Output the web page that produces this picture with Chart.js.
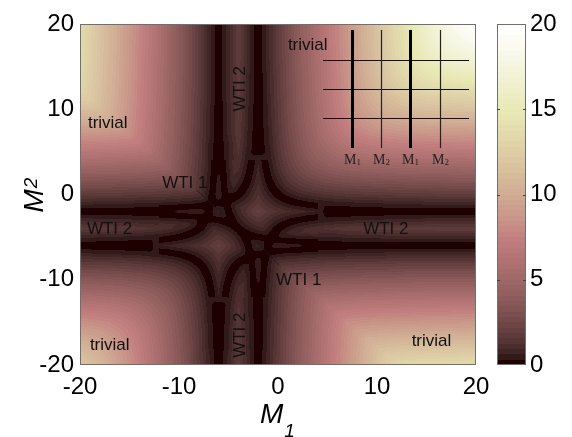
<!DOCTYPE html>
<html>
<head>
<meta charset="utf-8">
<script src="https://cdn.jsdelivr.net/npm/chart.js@4.4.1/dist/chart.umd.min.js"></script>
<style>
  html, body { margin: 0; padding: 0; background: #fff; }
  #wrap { position: relative; width: 572px; height: 437px; overflow: hidden; }
  #wrap canvas { position: absolute; top: 0; }
</style>
</head>
<body>
<div id="wrap">
  <canvas id="gapChart" width="572" height="437" style="left:0"></canvas>
  <canvas id="barChart" width="96" height="437" style="left:476px"></canvas>
</div>
<script>
// grid of the phase diagram: columns are M1, rows are M2 (top row = M2 20)
var m1Values = [-20,-19,-18,-17,-16,-15,-14,-13,-12,-11,-10,-9,-8,-7,-6,-5,-4,-3,-2,-1,0,1,2,3,4,5,6,7,8,9,10,11,12,13,14,15,16,17,18,19,20];
var m2Values = [20,19,18,17,16,15,14,13,12,11,10,9,8,7,6,5,4,3,2,1,0,-1,-2,-3,-4,-5,-6,-7,-8,-9,-10,-11,-12,-13,-14,-15,-16,-17,-18,-19,-20];

// gap, one row per M2 value
var gapRows = [
  [13.7,12.7,11.7,10.7,9.8,8.8,7.8,6.8,5.8,4.8,3.8,2.8,1.8,0.8,0.0,0.8,1.8,0.8,0.0,0.8,1.8,2.8,3.8,4.8,5.8,6.7,7.7,8.7,9.7,10.6,11.6,12.6,13.5,14.5,15.4,16.3,17.2,18.0,18.8,19.4,20.0],
  [13.6,12.7,11.7,10.7,9.7,8.8,7.8,6.8,5.8,4.8,3.8,2.8,1.8,0.8,0.0,0.8,1.8,0.8,0.0,0.8,1.8,2.8,3.8,4.8,5.7,6.7,7.7,8.7,9.6,10.6,11.6,12.5,13.5,14.4,15.3,16.2,17.0,17.8,18.4,19.0,19.4],
  [13.6,12.6,11.7,10.7,9.7,8.7,7.8,6.8,5.8,4.8,3.8,2.8,1.8,0.8,0.0,0.8,1.8,0.8,0.0,0.8,1.8,2.8,3.8,4.7,5.7,6.7,7.7,8.6,9.6,10.6,11.5,12.5,13.4,14.3,15.2,16.0,16.8,17.4,18.0,18.4,18.8],
  [13.6,12.6,11.6,10.7,9.7,8.7,7.7,6.8,5.8,4.8,3.8,2.8,1.8,0.8,0.0,0.8,1.8,0.8,0.0,0.8,1.8,2.8,3.7,4.7,5.7,6.7,7.6,8.6,9.6,10.5,11.5,12.4,13.3,14.2,15.0,15.8,16.4,17.0,17.4,17.8,18.0],
  [13.5,12.6,11.6,10.6,9.7,8.7,7.7,6.7,5.8,4.8,3.8,2.8,1.8,0.8,0.0,0.8,1.8,0.8,0.0,0.8,1.8,2.7,3.7,4.7,5.7,6.6,7.6,8.6,9.5,10.5,11.4,12.3,13.2,14.0,14.8,15.4,16.0,16.4,16.8,17.0,17.2],
  [13.5,12.5,11.6,10.6,9.6,8.7,7.7,6.7,5.7,4.8,3.8,2.8,1.8,0.8,0.0,0.8,1.7,0.8,0.0,0.8,1.7,2.7,3.7,4.7,5.6,6.6,7.6,8.5,9.5,10.4,11.3,12.2,13.0,13.8,14.4,15.0,15.4,15.8,16.0,16.2,16.3],
  [13.4,12.5,11.5,10.6,9.6,8.6,7.7,6.7,5.7,4.7,3.8,2.8,1.8,0.8,0.0,0.8,1.7,0.7,0.0,0.7,1.7,2.7,3.7,4.6,5.6,6.6,7.5,8.5,9.4,10.3,11.2,12.0,12.8,13.4,14.0,14.4,14.8,15.0,15.2,15.3,15.4],
  [13.3,12.4,11.5,10.5,9.6,8.6,7.6,6.7,5.7,4.7,3.7,2.8,1.8,0.8,0.0,0.8,1.7,0.7,0.0,0.7,1.7,2.7,3.6,4.6,5.6,6.5,7.5,8.4,9.3,10.2,11.0,11.8,12.4,13.0,13.4,13.8,14.0,14.2,14.3,14.4,14.5],
  [13.2,12.3,11.4,10.5,9.5,8.6,7.6,6.6,5.7,4.7,3.7,2.7,1.8,0.8,0.0,0.8,1.7,0.7,0.0,0.7,1.7,2.6,3.6,4.6,5.5,6.5,7.4,8.3,9.2,10.0,10.8,11.4,12.0,12.4,12.8,13.0,13.2,13.3,13.4,13.5,13.5],
  [12.3,12.2,11.3,10.4,9.5,8.5,7.6,6.6,5.6,4.7,3.7,2.7,1.7,0.8,0.0,0.8,1.6,0.7,0.0,0.7,1.6,2.6,3.6,4.5,5.5,6.4,7.3,8.2,9.0,9.8,10.4,11.0,11.4,11.8,12.0,12.2,12.3,12.4,12.5,12.5,12.6],
  [11.4,11.3,11.2,10.3,9.4,8.5,7.5,6.6,5.6,4.6,3.7,2.7,1.7,0.7,0.0,0.7,1.6,0.6,0.0,0.6,1.6,2.6,3.5,4.5,5.4,6.3,7.2,8.0,8.8,9.4,10.0,10.4,10.8,11.0,11.2,11.3,11.4,11.5,11.5,11.6,11.6],
  [10.5,10.4,10.3,10.2,9.3,8.4,7.5,6.5,5.6,4.6,3.6,2.7,1.7,0.7,0.0,0.7,1.6,0.6,0.0,0.6,1.6,2.5,3.5,4.4,5.3,6.2,7.0,7.8,8.4,9.0,9.4,9.8,10.0,10.2,10.3,10.4,10.5,10.5,10.6,10.6,10.6],
  [9.5,9.5,9.4,9.3,9.2,8.3,7.4,6.5,5.5,4.6,3.6,2.6,1.7,0.7,0.0,0.7,1.5,0.6,0.0,0.6,1.5,2.5,3.4,4.3,5.2,6.0,6.8,7.4,8.0,8.4,8.8,9.0,9.2,9.3,9.4,9.5,9.5,9.6,9.6,9.6,9.7],
  [8.6,8.5,8.5,8.4,8.3,8.2,7.3,6.4,5.5,4.5,3.6,2.6,1.6,0.7,0.0,0.7,1.5,0.5,0.0,0.5,1.5,2.4,3.3,4.2,5.0,5.8,6.4,7.0,7.4,7.8,8.0,8.2,8.3,8.4,8.5,8.5,8.6,8.6,8.6,8.7,8.7],
  [7.6,7.6,7.5,7.5,7.4,7.3,7.2,6.3,5.4,4.5,3.5,2.6,1.6,0.6,0.0,0.6,1.4,0.5,0.0,0.5,1.4,2.3,3.2,4.0,4.8,5.4,6.0,6.4,6.8,7.0,7.2,7.3,7.4,7.5,7.5,7.6,7.6,7.6,7.7,7.7,7.7],
  [6.6,6.6,6.6,6.5,6.5,6.4,6.3,6.2,5.3,4.4,3.5,2.5,1.6,0.6,0.0,0.6,1.3,0.4,0.1,0.4,1.3,2.2,3.0,3.8,4.4,5.0,5.4,5.8,6.0,6.2,6.3,6.4,6.5,6.5,6.6,6.6,6.6,6.7,6.7,6.7,6.7],
  [5.7,5.6,5.6,5.6,5.5,5.5,5.4,5.3,5.2,4.3,3.4,2.5,1.5,0.6,0.0,0.6,1.2,0.3,0.6,0.3,1.2,2.0,2.8,3.4,4.0,4.4,4.8,5.0,5.2,5.3,5.4,5.5,5.5,5.6,5.6,5.6,5.7,5.7,5.7,5.7,5.8],
  [4.7,4.7,4.6,4.6,4.6,4.5,4.5,4.4,4.3,4.2,3.3,2.4,1.5,0.5,0.1,0.5,1.0,0.2,0.7,0.2,1.0,1.8,2.4,3.0,3.4,3.8,4.0,4.2,4.3,4.4,4.5,4.5,4.6,4.6,4.6,4.7,4.7,4.7,4.7,4.8,4.8],
  [3.7,3.7,3.7,3.6,3.6,3.6,3.5,3.5,3.4,3.3,3.2,2.3,1.4,0.5,0.2,0.5,0.8,0.0,0.8,0.0,0.8,1.4,2.0,2.4,2.8,3.0,3.2,3.3,3.4,3.5,3.5,3.6,3.6,3.6,3.7,3.7,3.7,3.7,3.8,3.8,3.8],
  [2.7,2.7,2.7,2.7,2.6,2.6,2.6,2.5,2.5,2.4,2.3,2.2,1.3,0.4,0.3,0.4,0.4,0.2,1.0,0.2,0.4,1.0,1.4,1.8,2.0,2.2,2.3,2.4,2.5,2.5,2.6,2.6,2.6,2.7,2.7,2.7,2.7,2.8,2.8,2.8,2.8],
  [1.8,1.7,1.7,1.7,1.7,1.6,1.6,1.6,1.5,1.5,1.4,1.3,1.2,0.3,0.6,0.3,0.0,0.6,1.2,0.6,0.0,0.4,0.8,1.0,1.2,1.3,1.4,1.5,1.5,1.6,1.6,1.6,1.7,1.7,1.7,1.7,1.8,1.8,1.8,1.8,1.8],
  [0.8,0.8,0.7,0.7,0.7,0.7,0.6,0.6,0.6,0.5,0.5,0.4,0.3,0.2,0.0,0.2,0.6,1.0,1.6,1.0,0.6,0.2,0.0,0.2,0.3,0.4,0.5,0.5,0.6,0.6,0.6,0.7,0.7,0.7,0.7,0.8,0.8,0.8,0.8,0.8,0.8],
  [0.0,0.0,0.0,0.0,0.0,0.0,0.0,0.0,0.0,0.0,0.2,0.3,0.6,0.0,0.8,0.0,0.8,1.4,2.0,1.6,1.2,1.0,0.8,0.7,0.6,0.1,0.0,0.0,0.0,0.0,0.0,0.0,0.0,0.0,0.0,0.0,0.0,0.0,0.0,0.0,0.0],
  [0.8,0.8,0.7,0.7,0.7,0.7,0.6,0.6,0.6,0.5,0.5,0.4,0.3,0.2,0.0,0.2,0.4,1.0,1.4,1.0,0.6,0.2,0.0,0.2,0.3,0.4,0.5,0.5,0.6,0.6,0.6,0.7,0.7,0.7,0.7,0.8,0.8,0.8,0.8,0.8,0.8],
  [1.7,1.6,1.6,1.6,1.5,1.5,1.4,1.3,1.2,1.0,0.8,0.4,0.0,0.6,0.8,0.4,0.0,0.4,0.8,0.6,0.0,0.4,0.8,1.0,1.2,1.3,1.4,1.5,1.5,1.6,1.6,1.6,1.7,1.7,1.7,1.7,1.8,1.8,1.8,1.8,1.8],
  [0.7,0.7,0.6,0.6,0.6,0.5,0.5,0.4,0.3,0.2,0.0,0.2,0.6,1.0,1.4,1.0,0.4,0.2,0.0,0.2,0.3,0.4,0.5,0.5,0.6,0.6,0.6,0.7,0.7,0.7,0.7,0.8,0.8,0.8,0.8,0.8,0.8,0.8,0.8,0.8,0.8],
  [0.0,0.0,0.0,0.0,0.0,0.0,0.0,0.1,0.6,0.7,0.8,1.0,1.2,1.6,2.0,1.4,0.8,0.0,0.8,0.0,0.6,0.3,0.2,0.1,0.0,0.0,0.0,0.0,0.0,0.0,0.0,0.0,0.0,0.0,0.0,0.0,0.0,0.0,0.0,0.0,0.0],
  [0.7,0.7,0.6,0.6,0.6,0.5,0.5,0.4,0.3,0.2,0.0,0.2,0.6,1.0,1.6,1.0,0.6,0.2,0.0,0.2,0.3,0.4,0.5,0.5,0.6,0.6,0.6,0.7,0.7,0.7,0.7,0.8,0.8,0.8,0.8,0.8,0.8,0.8,0.8,0.8,0.8],
  [1.7,1.6,1.6,1.6,1.5,1.5,1.4,1.3,1.2,1.0,0.8,0.4,0.0,0.6,1.2,0.6,0.0,0.3,0.6,0.3,1.2,1.3,1.4,1.5,1.5,1.6,1.6,1.6,1.7,1.7,1.7,1.7,1.8,1.8,1.8,1.8,1.8,1.8,1.8,1.8,1.8],
  [2.6,2.6,2.6,2.5,2.5,2.4,2.3,2.2,2.0,1.8,1.4,1.0,0.4,0.2,1.0,0.2,0.4,0.4,0.3,0.4,1.3,2.2,2.3,2.4,2.5,2.5,2.6,2.6,2.6,2.7,2.7,2.7,2.7,2.8,2.8,2.8,2.8,2.8,2.8,2.8,2.8],
  [3.6,3.6,3.5,3.5,3.4,3.3,3.2,3.0,2.8,2.4,2.0,1.4,0.8,0.0,0.8,0.0,0.8,0.5,0.2,0.5,1.4,2.3,3.2,3.3,3.4,3.5,3.5,3.6,3.6,3.6,3.7,3.7,3.7,3.7,3.8,3.8,3.8,3.8,3.8,3.8,3.8],
  [4.6,4.5,4.5,4.4,4.3,4.2,4.0,3.8,3.4,3.0,2.4,1.8,1.0,0.2,0.7,0.2,1.0,0.5,0.1,0.5,1.5,2.4,3.3,4.2,4.3,4.4,4.5,4.5,4.6,4.6,4.6,4.7,4.7,4.7,4.7,4.8,4.8,4.8,4.8,4.8,4.8],
  [5.5,5.5,5.4,5.3,5.2,5.0,4.8,4.4,4.0,3.4,2.8,2.0,1.2,0.3,0.6,0.3,1.2,0.6,0.0,0.6,1.5,2.5,3.4,4.3,5.2,5.3,5.4,5.5,5.5,5.6,5.6,5.6,5.7,5.7,5.7,5.7,5.8,5.8,5.8,5.8,5.8],
  [6.5,6.4,6.3,6.2,6.0,5.8,5.4,5.0,4.4,3.8,3.0,2.2,1.3,0.4,0.1,0.4,1.3,0.6,0.0,0.6,1.6,2.5,3.5,4.4,5.3,6.2,6.3,6.4,6.5,6.5,6.6,6.6,6.6,6.7,6.7,6.7,6.7,6.8,6.8,6.8,6.8],
  [7.4,7.3,7.2,7.0,6.8,6.4,6.0,5.4,4.8,4.0,3.2,2.3,1.4,0.5,0.0,0.5,1.4,0.6,0.0,0.6,1.6,2.6,3.5,4.5,5.4,6.3,7.2,7.3,7.4,7.5,7.5,7.6,7.6,7.6,7.7,7.7,7.7,7.7,7.8,7.8,7.8],
  [8.3,8.2,8.0,7.8,7.4,7.0,6.4,5.8,5.0,4.2,3.3,2.4,1.5,0.5,0.0,0.5,1.5,0.7,0.0,0.7,1.6,2.6,3.6,4.5,5.5,6.4,7.3,8.2,8.3,8.4,8.5,8.5,8.6,8.6,8.6,8.7,8.7,8.7,8.7,8.8,8.8],
  [9.2,9.0,8.8,8.4,8.0,7.4,6.8,6.0,5.2,4.3,3.4,2.5,1.5,0.6,0.0,0.6,1.5,0.7,0.0,0.7,1.7,2.6,3.6,4.6,5.5,6.5,7.4,8.3,9.2,9.3,9.4,9.5,9.5,9.6,9.6,9.6,9.7,9.7,9.7,9.7,9.8],
  [10.0,9.8,9.4,9.0,8.4,7.8,7.0,6.2,5.3,4.4,3.5,2.5,1.6,0.6,0.0,0.6,1.6,0.7,0.0,0.7,1.7,2.7,3.6,4.6,5.6,6.5,7.5,8.4,9.3,10.2,10.3,10.4,10.5,10.5,10.6,10.6,10.6,10.7,10.7,10.7,10.7],
  [10.8,10.4,10.0,9.4,8.8,8.0,7.2,6.3,5.4,4.5,3.5,2.6,1.6,0.6,0.0,0.6,1.6,0.7,0.0,0.7,1.7,2.7,3.7,4.6,5.6,6.6,7.5,8.5,9.4,10.3,11.2,11.3,11.4,11.5,11.5,11.6,11.6,11.6,11.7,11.7,11.7],
  [11.4,11.0,10.4,9.8,9.0,8.2,7.3,6.4,5.5,4.5,3.6,2.6,1.6,0.7,0.0,0.7,1.6,0.8,0.0,0.8,1.7,2.7,3.7,4.7,5.6,6.6,7.6,8.5,9.5,10.4,11.3,12.2,12.3,12.4,12.5,12.5,12.6,12.6,12.6,12.7,12.7],
  [12.0,11.4,10.8,10.0,9.2,8.3,7.4,6.5,5.5,4.6,3.6,2.6,1.7,0.7,0.0,0.7,1.7,0.8,0.0,0.8,1.8,2.7,3.7,4.7,5.7,6.6,7.6,8.6,9.5,10.5,11.4,12.3,13.2,13.3,13.4,13.5,13.5,13.6,13.6,13.6,13.7]
];

// finer reading of the crossing region, M1 and M2 from -12 to 4 in half steps
var fineM1 = [-12,-11.5,-11,-10.5,-10,-9.5,-9,-8.5,-8,-7.5,-7,-6.5,-6,-5.5,-5,-4.5,-4,-3.5,-3,-2.5,-2,-1.5,-1,-0.5,0,0.5,1,1.5,2,2.5,3,3.5,4];
var fineM2 = [4,3.5,3,2.5,2,1.5,1,0.5,0,-0.5,-1,-1.5,-2,-2.5,-3,-3.5,-4,-4.5,-5,-5.5,-6,-6.5,-7,-7.5,-8,-8.5,-9,-9.5,-10,-10.5,-11,-11.5,-12];
var fineRows = [
  [5.17,4.74,4.30,3.85,3.39,2.93,2.47,2.00,1.53,1.05,0.58,0.10,0.05,0.10,0.58,1.05,1.17,0.74,0.30,0.15,0.61,0.15,0.30,0.74,1.17,1.59,2.00,2.39,2.76,3.11,3.44,3.73,4.00],
  [4.74,4.67,4.24,3.80,3.35,2.89,2.43,1.97,1.50,1.03,0.55,0.08,0.10,0.08,0.55,1.03,1.09,0.67,0.24,0.20,0.65,0.20,0.24,0.67,1.09,1.50,1.89,2.26,2.61,2.94,3.23,3.50,3.73],
  [4.30,4.24,4.17,3.74,3.30,2.85,2.39,1.93,1.47,1.00,0.53,0.05,0.18,0.05,0.53,1.00,1.00,0.59,0.17,0.26,0.70,0.26,0.17,0.59,1.00,1.39,1.76,2.11,2.44,2.73,3.00,3.23,3.44],
  [3.85,3.80,3.74,3.67,3.24,2.80,2.35,1.89,1.43,0.97,0.50,0.03,0.30,0.03,0.50,0.97,0.89,0.50,0.09,0.33,0.76,0.33,0.09,0.50,0.89,1.26,1.61,1.94,2.23,2.50,2.73,2.94,3.11],
  [3.39,3.35,3.30,3.24,3.17,2.74,2.30,1.85,1.39,0.93,0.47,0.00,0.47,0.00,0.47,0.93,0.76,0.39,0.00,0.41,0.83,0.41,0.00,0.39,0.76,1.11,1.44,1.73,2.00,2.23,2.44,2.61,2.76],
  [2.93,2.89,2.85,2.80,2.74,2.67,2.24,1.80,1.35,0.89,0.43,0.03,0.50,0.03,0.43,0.89,0.61,0.26,0.11,0.50,0.91,0.50,0.11,0.26,0.61,0.94,1.23,1.50,1.73,1.94,2.11,2.26,2.39],
  [2.47,2.43,2.39,2.35,2.30,2.24,2.17,1.74,1.30,0.85,0.39,0.07,0.53,0.07,0.39,0.73,0.44,0.11,0.24,0.61,1.00,0.61,0.24,0.11,0.44,0.73,1.00,1.23,1.44,1.61,1.76,1.89,2.00],
  [2.00,1.97,1.93,1.89,1.85,1.80,1.74,1.67,1.24,0.80,0.35,0.11,0.57,0.11,0.35,0.50,0.23,0.06,0.39,0.74,1.11,0.74,0.39,0.06,0.23,0.50,0.73,0.94,1.11,1.26,1.39,1.50,1.59],
  [1.53,1.50,1.47,1.43,1.39,1.35,1.30,1.24,1.17,0.74,0.30,0.15,0.61,0.15,0.30,0.23,0.00,0.27,0.56,0.89,1.24,0.89,0.56,0.27,0.00,0.23,0.44,0.61,0.76,0.89,1.00,1.09,1.17],
  [1.05,1.03,1.00,0.97,0.93,0.89,0.85,0.80,0.74,0.67,0.24,0.20,0.39,0.20,0.11,0.06,0.27,0.50,0.77,1.06,1.39,1.06,0.77,0.50,0.27,0.06,0.11,0.26,0.39,0.50,0.59,0.67,0.74],
  [0.58,0.55,0.53,0.50,0.47,0.43,0.39,0.35,0.30,0.24,0.17,0.09,0.00,0.11,0.17,0.39,0.56,0.77,1.00,1.27,1.56,1.27,1.00,0.77,0.56,0.39,0.24,0.11,0.00,0.09,0.17,0.24,0.30],
  [0.10,0.08,0.05,0.03,0.00,0.03,0.07,0.11,0.15,0.20,0.09,0.33,0.41,0.33,0.09,0.50,0.89,1.06,1.27,1.50,1.77,1.50,1.27,1.06,0.89,0.74,0.61,0.50,0.41,0.33,0.26,0.20,0.15],
  [0.05,0.10,0.18,0.30,0.47,0.50,0.53,0.57,0.61,0.39,0.00,0.41,0.83,0.41,0.00,0.39,0.76,1.11,1.44,1.73,2.00,1.77,1.56,1.39,1.24,1.11,1.00,0.91,0.83,0.76,0.70,0.65,0.61],
  [0.10,0.08,0.05,0.03,0.00,0.03,0.07,0.11,0.15,0.20,0.11,0.33,0.41,0.50,0.11,0.26,0.61,0.94,1.23,1.50,1.73,1.50,1.27,1.06,0.89,0.74,0.61,0.50,0.41,0.33,0.26,0.20,0.15],
  [0.58,0.55,0.53,0.50,0.47,0.43,0.39,0.35,0.30,0.11,0.17,0.09,0.00,0.11,0.24,0.11,0.44,0.73,1.00,1.23,1.44,1.27,1.00,0.77,0.56,0.39,0.24,0.11,0.00,0.09,0.17,0.24,0.30],
  [1.05,1.03,1.00,0.97,0.93,0.89,0.73,0.50,0.23,0.06,0.39,0.50,0.39,0.26,0.11,0.06,0.23,0.50,0.73,0.94,1.11,1.06,0.77,0.50,0.27,0.06,0.11,0.26,0.39,0.50,0.59,0.67,0.74],
  [1.17,1.09,1.00,0.89,0.76,0.61,0.44,0.23,0.00,0.27,0.56,0.89,0.76,0.61,0.44,0.23,0.00,0.23,0.44,0.61,0.76,0.89,0.56,0.27,0.00,0.23,0.44,0.61,0.76,0.89,1.00,1.09,1.17],
  [0.74,0.67,0.59,0.50,0.39,0.26,0.11,0.06,0.27,0.50,0.77,1.06,1.11,0.94,0.73,0.50,0.23,0.06,0.11,0.26,0.39,0.50,0.39,0.06,0.23,0.50,0.73,0.89,0.93,0.97,1.00,1.03,1.05],
  [0.30,0.24,0.17,0.09,0.00,0.11,0.24,0.39,0.56,0.77,1.00,1.27,1.44,1.23,1.00,0.73,0.44,0.11,0.24,0.11,0.00,0.09,0.17,0.11,0.30,0.35,0.39,0.43,0.47,0.50,0.53,0.55,0.58],
  [0.15,0.20,0.26,0.33,0.41,0.50,0.61,0.74,0.89,1.06,1.27,1.50,1.73,1.50,1.23,0.94,0.61,0.26,0.11,0.50,0.41,0.33,0.11,0.20,0.15,0.11,0.07,0.03,0.00,0.03,0.05,0.08,0.10],
  [0.61,0.65,0.70,0.76,0.83,0.91,1.00,1.11,1.24,1.39,1.56,1.77,2.00,1.73,1.44,1.11,0.76,0.39,0.00,0.41,0.83,0.41,0.00,0.39,0.61,0.57,0.53,0.50,0.47,0.30,0.18,0.10,0.05],
  [0.15,0.20,0.26,0.33,0.41,0.50,0.61,0.74,0.89,1.06,1.27,1.50,1.77,1.50,1.27,1.06,0.89,0.50,0.09,0.33,0.41,0.33,0.09,0.20,0.15,0.11,0.07,0.03,0.00,0.03,0.05,0.08,0.10],
  [0.30,0.24,0.17,0.09,0.00,0.11,0.24,0.39,0.56,0.77,1.00,1.27,1.56,1.27,1.00,0.77,0.56,0.39,0.17,0.11,0.00,0.09,0.17,0.24,0.30,0.35,0.39,0.43,0.47,0.50,0.53,0.55,0.58],
  [0.74,0.67,0.59,0.50,0.39,0.26,0.11,0.06,0.27,0.50,0.77,1.06,1.39,1.06,0.77,0.50,0.27,0.06,0.11,0.20,0.39,0.20,0.24,0.67,0.74,0.80,0.85,0.89,0.93,0.97,1.00,1.03,1.05],
  [1.17,1.09,1.00,0.89,0.76,0.61,0.44,0.23,0.00,0.27,0.56,0.89,1.24,0.89,0.56,0.27,0.00,0.23,0.30,0.15,0.61,0.15,0.30,0.74,1.17,1.24,1.30,1.35,1.39,1.43,1.47,1.50,1.53],
  [1.59,1.50,1.39,1.26,1.11,0.94,0.73,0.50,0.23,0.06,0.39,0.74,1.11,0.74,0.39,0.06,0.23,0.50,0.35,0.11,0.57,0.11,0.35,0.80,1.24,1.67,1.74,1.80,1.85,1.89,1.93,1.97,2.00],
  [2.00,1.89,1.76,1.61,1.44,1.23,1.00,0.73,0.44,0.11,0.24,0.61,1.00,0.61,0.24,0.11,0.44,0.73,0.39,0.07,0.53,0.07,0.39,0.85,1.30,1.74,2.17,2.24,2.30,2.35,2.39,2.43,2.47],
  [2.39,2.26,2.11,1.94,1.73,1.50,1.23,0.94,0.61,0.26,0.11,0.50,0.91,0.50,0.11,0.26,0.61,0.89,0.43,0.03,0.50,0.03,0.43,0.89,1.35,1.80,2.24,2.67,2.74,2.80,2.85,2.89,2.93],
  [2.76,2.61,2.44,2.23,2.00,1.73,1.44,1.11,0.76,0.39,0.00,0.41,0.83,0.41,0.00,0.39,0.76,0.93,0.47,0.00,0.47,0.00,0.47,0.93,1.39,1.85,2.30,2.74,3.17,3.24,3.30,3.35,3.39],
  [3.11,2.94,2.73,2.50,2.23,1.94,1.61,1.26,0.89,0.50,0.09,0.33,0.76,0.33,0.09,0.50,0.89,0.97,0.50,0.03,0.30,0.03,0.50,0.97,1.43,1.89,2.35,2.80,3.24,3.67,3.74,3.80,3.85],
  [3.44,3.23,3.00,2.73,2.44,2.11,1.76,1.39,1.00,0.59,0.17,0.26,0.70,0.26,0.17,0.59,1.00,1.00,0.53,0.05,0.18,0.05,0.53,1.00,1.47,1.93,2.39,2.85,3.30,3.74,4.17,4.24,4.30],
  [3.73,3.50,3.23,2.94,2.61,2.26,1.89,1.50,1.09,0.67,0.24,0.20,0.65,0.20,0.24,0.67,1.09,1.03,0.55,0.08,0.10,0.08,0.55,1.03,1.50,1.97,2.43,2.89,3.35,3.80,4.24,4.67,4.74],
  [4.00,3.73,3.44,3.11,2.76,2.39,2.00,1.59,1.17,0.74,0.30,0.15,0.61,0.15,0.30,0.74,1.17,1.05,0.58,0.10,0.05,0.10,0.58,1.05,1.53,2.00,2.47,2.93,3.39,3.85,4.30,4.74,5.17]
];

var gapMin = 0;
var gapMax = 20;
var colorTicks = [0, 5, 10, 15, 20];
var axisTicks = [-20, -10, 0, 10, 20];

// phase labels and arrows, placed in (M1, M2) units
var phaseLabels = [
  { text: 'trivial', m1: -19.2, m2: 7.8 },
  { text: 'trivial', m1: 1.0, m2: 17.0 },
  { text: 'trivial', m1: -19.0, m2: -18.2 },
  { text: 'trivial', m1: 13.5, m2: -17.8 },
  { text: 'WTI 2', m1: -19.3, m2: -4.6 },
  { text: 'WTI 2', m1: 8.6, m2: -4.6 },
  { text: 'WTI 1', m1: -11.7, m2: 0.8 },
  { text: 'WTI 1', m1: -0.2, m2: -10.6 }
];
var verticalLabels = [
  { text: 'WTI 2', m1: -3.8, m2: 12.4 },
  { text: 'WTI 2', m1: -3.8, m2: -16.5 }
];
var arrows = [
  { from: [-8.2, 0.5], to: [-5.7, -2.2] },
  { from: [0.1, -8.3], to: [-2.1, -5.6] }
];
// little layer sketch in the upper right corner
var sketchLayers = [
  { m1: 7.5, name: 'M', sub: '1', thick: true },
  { m1: 10.4, name: 'M', sub: '2', thick: false },
  { m1: 13.3, name: 'M', sub: '1', thick: true },
  { m1: 16.4, name: 'M', sub: '2', thick: false }
];
var sketchRows = [15.8, 12.4, 9.0];

var sansFont = '"Liberation Sans", Arial, Helvetica, sans-serif';
Chart.defaults.font.family = sansFont;
Chart.defaults.color = '#000';

// matlab "pink" colour map, 64 steps
var palette = [];
(function () {
  var n = 64, k = Math.floor(3 * n / 8);
  for (var i = 0; i < n; i++) {
    var gray = i / (n - 1);
    var hr = i < k ? (i + 1) / k : 1;
    var hg = i < k ? 0 : (i < 2 * k ? (i - k + 1) / k : 1);
    var hb = i < 2 * k ? 0 : (i - 2 * k + 1) / (n - 2 * k);
    palette.push([hr, hg, hb].map(function (h) {
      return Math.round(255 * Math.sqrt((2 * gray + h) / 3));
    }));
  }
})();

function pinkRGB(v) {
  var n = palette.length;
  var i = Math.floor((v - gapMin) / (gapMax - gapMin) * n);
  if (i < 0) i = 0;
  if (i > n - 1) i = n - 1;
  return palette[i];
}

// bilinear look-up in a regular grid (xs ascending, ys descending)
function sampleGrid(xv, yv, rows, x, y) {
  var fx = (x - xv[0]) / (xv[1] - xv[0]);
  var fy = (y - yv[0]) / (yv[1] - yv[0]);
  fx = Math.max(0, Math.min(xv.length - 1.0001, fx));
  fy = Math.max(0, Math.min(yv.length - 1.0001, fy));
  var i = Math.floor(fx), j = Math.floor(fy);
  var tx = fx - i, ty = fy - j;
  var a = rows[j], b = rows[j + 1];
  var top = a[i] * (1 - tx) + a[i + 1] * tx;
  var bot = b[i] * (1 - tx) + b[i + 1] * tx;
  return top * (1 - ty) + bot * ty;
}

function gapAt(m1, m2) {
  if (m1 >= fineM1[0] && m1 <= fineM1[fineM1.length - 1] &&
      m2 <= fineM2[0] && m2 >= fineM2[fineM2.length - 1]) {
    return sampleGrid(fineM1, fineM2, fineRows, m1, m2);
  }
  return sampleGrid(m1Values, m2Values, gapRows, m1, m2);
}

// shaded heat map: each screen pixel looks up the grids through the scales
var heatmapPlugin = {
  id: 'heatmap',
  beforeDatasetsDraw: function (chart) {
    var ctx = chart.ctx;
    var area = chart.chartArea;
    var xs = chart.scales.x, ys = chart.scales.y;
    var w = Math.round(area.right - area.left);
    var h = Math.round(area.bottom - area.top);

    var off = document.createElement('canvas');
    off.width = w;
    off.height = h;
    var octx = off.getContext('2d');
    var img = octx.createImageData(w, h);
    var colVal = [];
    for (var i = 0; i < w; i++) colVal.push(xs.getValueForPixel(area.left + i + 0.5));

    for (var j = 0; j < h; j++) {
      var m2 = ys.getValueForPixel(area.top + j + 0.5);
      for (var k = 0; k < w; k++) {
        var c = pinkRGB(gapAt(colVal[k], m2));
        var p = (j * w + k) * 4;
        img.data[p] = c[0];
        img.data[p + 1] = c[1];
        img.data[p + 2] = c[2];
        img.data[p + 3] = 255;
      }
    }
    octx.putImageData(img, 0, 0);
    ctx.drawImage(off, area.left, area.top, w, h);
  }
};

function drawArrow(ctx, x0, y0, x1, y1) {
  var ang = Math.atan2(y1 - y0, x1 - x0);
  var len = 6;
  ctx.beginPath();
  ctx.moveTo(x0, y0);
  ctx.lineTo(x1, y1);
  ctx.stroke();
  ctx.beginPath();
  ctx.moveTo(x1, y1);
  ctx.lineTo(x1 - len * Math.cos(ang - 0.4), y1 - len * Math.sin(ang - 0.4));
  ctx.moveTo(x1, y1);
  ctx.lineTo(x1 - len * Math.cos(ang + 0.4), y1 - len * Math.sin(ang + 0.4));
  ctx.stroke();
}

var annotatePlugin = {
  id: 'annotate',
  afterDraw: function (chart) {
    var ctx = chart.ctx;
    var area = chart.chartArea;
    var xs = chart.scales.x, ys = chart.scales.y;
    var px = function (v) { return xs.getPixelForValue(v); };
    var py = function (v) { return ys.getPixelForValue(v); };

    ctx.save();
    // box
    ctx.strokeStyle = '#6f6f6f';
    ctx.lineWidth = 1;
    ctx.strokeRect(area.left + 0.5, area.top + 0.5, area.right - area.left - 1, area.bottom - area.top - 1);

    // phase names
    ctx.fillStyle = '#111';
    ctx.font = '17px ' + sansFont;
    ctx.textAlign = 'left';
    ctx.textBaseline = 'alphabetic';
    phaseLabels.forEach(function (l) {
      ctx.fillText(l.text, px(l.m1), py(l.m2));
    });
    verticalLabels.forEach(function (l) {
      ctx.save();
      ctx.translate(px(l.m1), py(l.m2));
      ctx.rotate(-Math.PI / 2);
      ctx.textAlign = 'center';
      ctx.textBaseline = 'middle';
      ctx.fillText(l.text, 0, 0);
      ctx.restore();
    });

    // arrows
    ctx.strokeStyle = '#1a1a1a';
    ctx.lineWidth = 0.8;
    arrows.forEach(function (a) {
      drawArrow(ctx, px(a.from[0]), py(a.from[1]), px(a.to[0]), py(a.to[1]));
    });

    // layer sketch
    var top = py(19.3), bot = py(5.45);
    ctx.strokeStyle = '#111';
    sketchRows.forEach(function (r) {
      ctx.lineWidth = 1.2;
      ctx.beginPath();
      ctx.moveTo(px(4.55), Math.round(py(r)) + 0.5);
      ctx.lineTo(px(19.3), Math.round(py(r)) + 0.5);
      ctx.stroke();
    });
    sketchLayers.forEach(function (s) {
      var x = Math.round(px(s.m1)) + 0.5;
      ctx.lineWidth = s.thick ? 3 : 1.2;
      ctx.strokeStyle = s.thick ? '#000' : '#222';
      ctx.beginPath();
      ctx.moveTo(x, top);
      ctx.lineTo(x, bot);
      ctx.stroke();
      ctx.fillStyle = '#222';
      ctx.font = '14px "Liberation Serif", "Times New Roman", serif';
      var w = ctx.measureText(s.name).width;
      ctx.font = '9px "Liberation Serif", "Times New Roman", serif';
      var ws = ctx.measureText(s.sub).width;
      var x0 = x - (w + ws) / 2;
      var yb = py(3.6);
      ctx.font = '14px "Liberation Serif", "Times New Roman", serif';
      ctx.fillText(s.name, x0, yb);
      ctx.font = '9px "Liberation Serif", "Times New Roman", serif';
      ctx.fillText(s.sub, x0 + w, yb + 1);
    });

    // axis titles
    ctx.fillStyle = '#000';
    ctx.font = 'italic 28px ' + sansFont;
    ctx.textAlign = 'left';
    ctx.textBaseline = 'alphabetic';
    var mw = ctx.measureText('M').width;
    var cx = (area.left + area.right) / 2;
    ctx.fillText('M', cx - 18, 423);
    ctx.font = 'italic 19px ' + sansFont;
    ctx.fillText('1', cx - 18 + mw + 1, 437);

    ctx.save();
    ctx.translate(43, (area.top + area.bottom) / 2 + 18);
    ctx.rotate(-Math.PI / 2);
    ctx.font = 'italic 28px ' + sansFont;
    ctx.fillText('M', 0, 0);
    ctx.font = 'italic 19px ' + sansFont;
    ctx.fillText('2', mw + 1, -6);
    ctx.restore();

    ctx.restore();
  }
};

new Chart(document.getElementById('gapChart'), {
  type: 'scatter',
  data: { datasets: [] },
  options: {
    responsive: false,
    animation: false,
    layout: { padding: { top: 24, right: 96, bottom: 0, left: 0 } },
    plugins: { legend: { display: false }, tooltip: { enabled: false } },
    scales: {
      x: {
        type: 'linear', min: -20, max: 20,
        afterBuildTicks: function (s) { s.ticks = axisTicks.map(function (v) { return { value: v }; }); },
        ticks: { font: { size: 24 }, color: '#000', padding: 8, maxRotation: 0 },
        grid: { display: false, drawTicks: false },
        border: { display: false },
        afterFit: function (s) { s.height = 72; }
      },
      y: {
        type: 'linear', min: -20, max: 20,
        afterBuildTicks: function (s) { s.ticks = axisTicks.map(function (v) { return { value: v }; }); },
        ticks: { font: { size: 24 }, color: '#000', padding: 6 },
        grid: { display: false, drawTicks: false },
        border: { display: false },
        afterFit: function (s) { s.width = 80; }
      }
    }
  },
  plugins: [heatmapPlugin, annotatePlugin]
});

var colorbarPlugin = {
  id: 'colorbar',
  beforeDatasetsDraw: function (chart) {
    var ctx = chart.ctx;
    var area = chart.chartArea;
    var ys = chart.scales.y;
    var n = palette.length;
    ctx.save();
    for (var i = 0; i < n; i++) {
      var v0 = gapMin + (gapMax - gapMin) * i / n;
      var v1 = gapMin + (gapMax - gapMin) * (i + 1) / n;
      var c = pinkRGB((v0 + v1) / 2);
      var y0 = Math.round(ys.getPixelForValue(v0));
      var y1 = Math.round(ys.getPixelForValue(v1));
      ctx.fillStyle = 'rgb(' + c[0] + ',' + c[1] + ',' + c[2] + ')';
      ctx.fillRect(area.left, y1, area.right - area.left, y0 - y1);
    }
    ctx.strokeStyle = '#6f6f6f';
    ctx.lineWidth = 1;
    ctx.strokeRect(area.left + 0.5, area.top + 0.5, area.right - area.left - 1, area.bottom - area.top - 1);
    ctx.strokeStyle = '#444';
    colorTicks.forEach(function (t) {
      if (t === gapMin || t === gapMax) return;
      var y = Math.round(ys.getPixelForValue(t)) + 0.5;
      ctx.beginPath();
      ctx.moveTo(area.left, y); ctx.lineTo(area.left + 3, y);
      ctx.moveTo(area.right - 3, y); ctx.lineTo(area.right, y);
      ctx.stroke();
    });
    ctx.restore();
  }
};

new Chart(document.getElementById('barChart'), {
  type: 'scatter',
  data: { datasets: [] },
  options: {
    responsive: false,
    animation: false,
    layout: { padding: { top: 24, right: 0, bottom: 72, left: 21 } },
    plugins: { legend: { display: false }, tooltip: { enabled: false } },
    scales: {
      x: { type: 'linear', min: 0, max: 1, display: false },
      y: {
        type: 'linear', position: 'right', min: gapMin, max: gapMax,
        afterBuildTicks: function (s) { s.ticks = colorTicks.map(function (v) { return { value: v }; }); },
        ticks: { font: { size: 24 }, color: '#000', padding: 4 },
        grid: { display: false, drawTicks: false },
        border: { display: false },
        afterFit: function (s) { s.width = 46; }
      }
    }
  },
  plugins: [colorbarPlugin]
});
</script>
</body>
</html>
